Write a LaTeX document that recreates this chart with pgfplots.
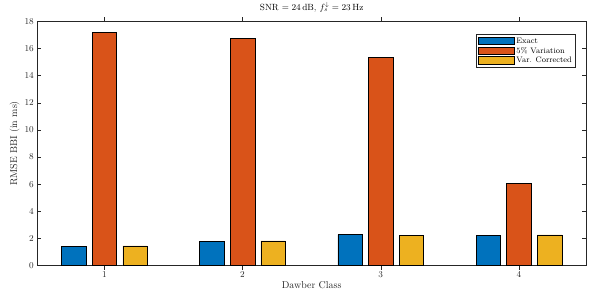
\documentclass[border=0pt]{standalone}
\usepackage{pgfplots}
\pgfplotsset{compat=1.18}
\definecolor{mblue}{RGB}{0,114,189}
\definecolor{morange}{RGB}{217,83,25}
\definecolor{myellow}{RGB}{237,177,32}
\definecolor{axgray}{RGB}{38,38,38}
\begin{document}
\begin{tikzpicture}
\begin{axis}[
  scale only axis,
  width=548.7bp, height=244bp,
  at={(0,0)}, anchor=south west,
  xmin=0.515, xmax=4.485,
  ymin=0, ymax=18,
  xtick={1,2,3,4},
  ytick={0,2,...,18},
  tick align=inside,
  major tick length=4bp,
  axis line style={axgray, line width=0.5pt},
  tick style={axgray, line width=0.5pt},
  ticklabel style={font=\small, text=axgray},
  xticklabel style={yshift=1pt},
  xlabel={Dawber Class},
  ylabel={RMSE BBI (in ms)},
  xlabel style={font=\normalsize, text=axgray, yshift=3pt},
  ylabel style={font=\normalsize, text=axgray, yshift=-2pt},
  title={SNR $= 24\,$dB, $f_s^{\downarrow} = 23\,$Hz},
  title style={font=\small, at={(0.5,1)}, anchor=south, yshift=0pt},
  ybar,
  bar width=0.177,
  legend style={font=\footnotesize, at={(0.981,0.949)}, anchor=north east,
    draw=axgray, line width=0.4pt, inner sep=1.5pt, row sep=-1.5pt,
    cells={anchor=west}},
  legend image code/.code={\draw[#1] (0bp,-3.5bp) rectangle (36bp,4bp);},
]
\addplot[fill=mblue, draw=black, line width=0.5pt, bar shift=-0.222] coordinates {(1,1.40) (2,1.76) (3,2.27) (4,2.24)};
\addlegendentry{Exact}
\addplot[fill=morange, draw=black, line width=0.5pt, bar shift=0] coordinates {(1,17.2) (2,16.75) (3,15.35) (4,6.05)};
\addlegendentry{5\% Variation}
\addplot[fill=myellow, draw=black, line width=0.5pt, bar shift=0.222] coordinates {(1,1.45) (2,1.81) (3,2.22) (4,2.26)};
\addlegendentry{Var. Corrected}
\end{axis}
\pgfresetboundingbox
\path (-37.3bp,-33.5bp) rectangle (560.7bp,265.5bp);
\end{tikzpicture}
\end{document}
